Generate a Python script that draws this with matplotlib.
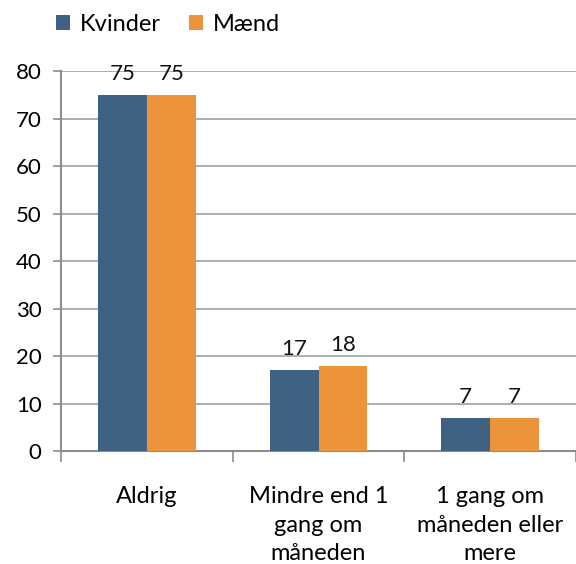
import matplotlib.pyplot as plt
import numpy as np

categories = ["Aldrig", "Mindre end 1\ngang om\nmåneden", "1 gang om\nmåneden eller\nmere"]
kvinder = [75, 17, 7]
maend = [75, 18, 7]

blue = '#3f6182'
orange = '#eb943b'
grey = '#8c8c8c'

plt.rcParams['font.family'] = ['Lato', 'DejaVu Sans']

fig = plt.figure(figsize=(5.76, 5.64), dpi=100)
ax = fig.add_axes([0.106, 0.2, 0.894, 0.674])

x = np.arange(len(categories))
w = 0.285
b1 = ax.bar(x - w / 2, kvinder, w, color=blue, label='Kvinder', zorder=3)
b2 = ax.bar(x + w / 2, maend, w, color=orange, label='Mænd', zorder=3)

for bars in (b1, b2):
    for r in bars:
        ax.annotate(f"{r.get_height():g}", (r.get_x() + r.get_width() / 2, r.get_height()),
                    xytext=(0, 8), textcoords='offset points', ha='center', va='bottom',
                    fontsize=16, color='#111111')

ax.set_xlim(-0.5, 2.5)
ax.set_ylim(0, 80)
ax.set_yticks(range(0, 81, 10))
ax.yaxis.grid(True, color='#a0a0a0', linewidth=1.2, zorder=0)
ax.set_axisbelow(True)

ax.set_xticks(x)
ax.set_xticklabels(categories, fontsize=17, linespacing=1.45, va='top')
ax.set_xticks([-0.5, 0.5, 1.5, 2.5], minor=True)
ax.tick_params(axis='x', which='major', length=0, pad=25)
ax.tick_params(axis='x', which='minor', length=8, width=1.2, color=grey, direction='out')
ax.tick_params(axis='y', length=6, width=1.2, color=grey, labelsize=16, pad=8)

for s in ['top', 'right']:
    ax.spines[s].set_visible(False)
for s in ['left', 'bottom']:
    ax.spines[s].set_color(grey)
    ax.spines[s].set_linewidth(1.5)

ax.legend(loc='center left', bbox_to_anchor=(0.097, 0.957), bbox_transform=fig.transFigure,
          ncol=2, frameon=False, borderpad=0, borderaxespad=0,
          fontsize=17, handlelength=0.6, handleheight=0.6, handletextpad=0.4,
          columnspacing=1.2)

fig.savefig('out.png', dpi=100)
